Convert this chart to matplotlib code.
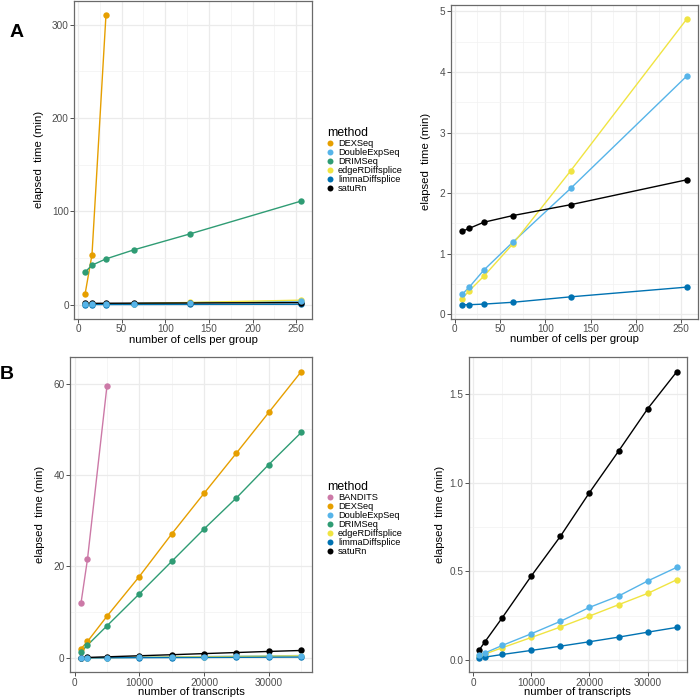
import matplotlib
matplotlib.use("Agg")
from matplotlib import pyplot as plt
from matplotlib.lines import Line2D
from matplotlib.ticker import MultipleLocator, FixedLocator
import numpy as np

plt.rcParams['font.family'] = ['Liberation Sans', 'DejaVu Sans']

# colours per method
colors = {
    "BANDITS": "#CC79A7",
    "DEXSeq": "#E69F00",
    "DoubleExpSeq": "#56B4E9",
    "DRIMSeq": "#2F9C74",
    "edgeRDiffsplice": "#F0E442",
    "limmaDiffsplice": "#0072B2",
    "satuRn": "#000000",
}

# panel A: number of cells per group
cells = [8, 16, 32, 64, 128, 256]
a_dexseq = [11, 53.7, 310]
a_doubleexp = [0.33, 0.45, 0.73, 1.19, 2.08, 3.93]
a_drimseq = [34.8, 42.3, 49, 58.7, 75.7, 111]
a_edger = [0.26, 0.39, 0.63, 1.16, 2.37, 4.87]
a_limma = [0.16, 0.16, 0.17, 0.20, 0.29, 0.45]
a_saturn = [1.37, 1.42, 1.52, 1.63, 1.81, 2.22]

# panel B: number of transcripts
transcripts = [1000, 2000, 5000, 10000, 15000, 20000, 25000, 30000, 35000]
b_bandits = [12.0, 21.6, 59.4]
b_dexseq = [2.0, 3.6, 9.1, 17.8, 27.1, 36.0, 44.8, 53.7, 62.6]
b_doubleexp = [0.025, 0.038, 0.081, 0.147, 0.217, 0.296, 0.36, 0.445, 0.522]
b_drimseq = [1.3, 2.8, 7.0, 14.0, 21.1, 28.2, 35.0, 42.3, 49.3]
b_edger = [0.019, 0.032, 0.068, 0.126, 0.185, 0.247, 0.311, 0.375, 0.452]
b_limma = [0.011, 0.015, 0.030, 0.053, 0.077, 0.102, 0.128, 0.156, 0.183]
b_saturn = [0.053, 0.10, 0.237, 0.473, 0.697, 0.944, 1.178, 1.417, 1.626]

a_all = {"DEXSeq": a_dexseq, "DoubleExpSeq": a_doubleexp, "DRIMSeq": a_drimseq,
         "edgeRDiffsplice": a_edger, "limmaDiffsplice": a_limma, "satuRn": a_saturn}
a_zoom = ["DoubleExpSeq", "edgeRDiffsplice", "limmaDiffsplice", "satuRn"]
b_all = {"BANDITS": b_bandits, "DEXSeq": b_dexseq, "DoubleExpSeq": b_doubleexp,
         "DRIMSeq": b_drimseq, "edgeRDiffsplice": b_edger,
         "limmaDiffsplice": b_limma, "satuRn": b_saturn}
b_zoom = ["DoubleExpSeq", "edgeRDiffsplice", "limmaDiffsplice", "satuRn"]


def draw_panel(ax, xs, series, names, xticks, yticks, ylabels, xminor, yminor,
               xlabel, ylab_x, xlab_y):
    allx, ally = [], []
    for n in names:
        ys = series[n]
        ax.plot(xs[:len(ys)], ys, color=colors[n], lw=1.0, zorder=2)
        allx += list(xs[:len(ys)])
        ally += list(ys)
    # light blue points end up on top, as in the original
    order = [n for n in names if n != "DoubleExpSeq"] + ["DoubleExpSeq"]
    for n in order:
        ys = series[n]
        ax.plot(xs[:len(ys)], ys, 'o', color=colors[n], ms=4.6, mew=0, zorder=3)
    # ggplot style 5% expansion
    x0, x1 = min(allx), max(allx)
    y0, y1 = min(ally), max(ally)
    ax.set_xlim(x0 - 0.05 * (x1 - x0), x1 + 0.05 * (x1 - x0))
    ax.set_ylim(y0 - 0.05 * (y1 - y0), y1 + 0.05 * (y1 - y0))
    ax.xaxis.set_major_locator(FixedLocator(xticks))
    ax.yaxis.set_major_locator(FixedLocator(yticks))
    ax.set_yticklabels(ylabels)
    ax.xaxis.set_minor_locator(MultipleLocator(xminor))
    ax.yaxis.set_minor_locator(MultipleLocator(yminor))
    ax.grid(which='major', color='#EBEBEB', lw=0.9, zorder=0)
    ax.grid(which='minor', color='#F2F2F2', lw=0.5, zorder=0)
    ax.set_axisbelow(True)
    ax.tick_params(which='major', length=2.6, width=0.6, color='#333333',
                   labelsize=7.2, labelcolor='#4D4D4D', pad=1.3)
    ax.tick_params(which='minor', length=0)
    for s in ax.spines.values():
        s.set_color('#6a6a6a')
        s.set_linewidth(0.9)
    ax.set_xlabel(xlabel, fontsize=8.2)
    ax.set_ylabel("elapsed  time (min)", fontsize=8.2)
    ax.yaxis.set_label_coords(ylab_x, 0.5)
    ax.xaxis.set_label_coords(0.5, xlab_y)


fig = plt.figure(figsize=(7.0, 6.98), dpi=100)

ax1 = fig.add_axes([0.106, 0.543, 0.340, 0.456])
draw_panel(ax1, cells, a_all, list(a_all.keys()), [0, 50, 100, 150, 200, 250],
           [0, 100, 200, 300], ["0", "100", "200", "300"], 25, 50,
           "number of cells per group", -0.126, -0.050)

ax2 = fig.add_axes([0.644, 0.543, 0.353, 0.450])
draw_panel(ax2, cells, a_all, a_zoom, [0, 50, 100, 150, 200, 250],
           [0, 1, 2, 3, 4, 5], ["0", "1", "2", "3", "4", "5"], 25, 0.5,
           "number of cells per group", -0.081, -0.048)

ax3 = fig.add_axes([0.100, 0.037, 0.346, 0.451])
draw_panel(ax3, transcripts, b_all, list(b_all.keys()), [0, 10000, 20000, 30000],
           [0, 20, 40, 60], ["0", "20", "40", "60"], 5000, 10,
           "number of transcripts", -0.103, -0.047)

ax4 = fig.add_axes([0.670, 0.037, 0.311, 0.451])
draw_panel(ax4, transcripts, b_all, b_zoom, [0, 10000, 20000, 30000],
           [0, 0.5, 1.0, 1.5], ["0.0", "0.5", "1.0", "1.5"], 5000, 0.25,
           "number of transcripts", -0.110, -0.047)


def add_legend(names, y):
    handles = [Line2D([], [], marker='o', ls='none', color=colors[n], ms=4.3, mew=0)
               for n in names]
    leg = fig.legend(handles, names, title="method", loc='upper left',
                     bbox_to_anchor=(0.467, y), frameon=False, fontsize=6.7,
                     title_fontsize=8.8, labelspacing=0.0, handlelength=0.6,
                     handletextpad=0.6, borderpad=0, borderaxespad=0)
    leg._legend_box.align = "left"


add_legend(list(a_all.keys()), 0.818)
add_legend(list(b_all.keys()), 0.311)

fig.text(0.023, 0.954, "A", fontsize=14, fontweight='bold', ha='center', va='center')
fig.text(0.009, 0.464, "B", fontsize=14, fontweight='bold', ha='center', va='center')

fig.savefig("out.png", dpi=100, facecolor="#FFFFFF")
plt.close()
